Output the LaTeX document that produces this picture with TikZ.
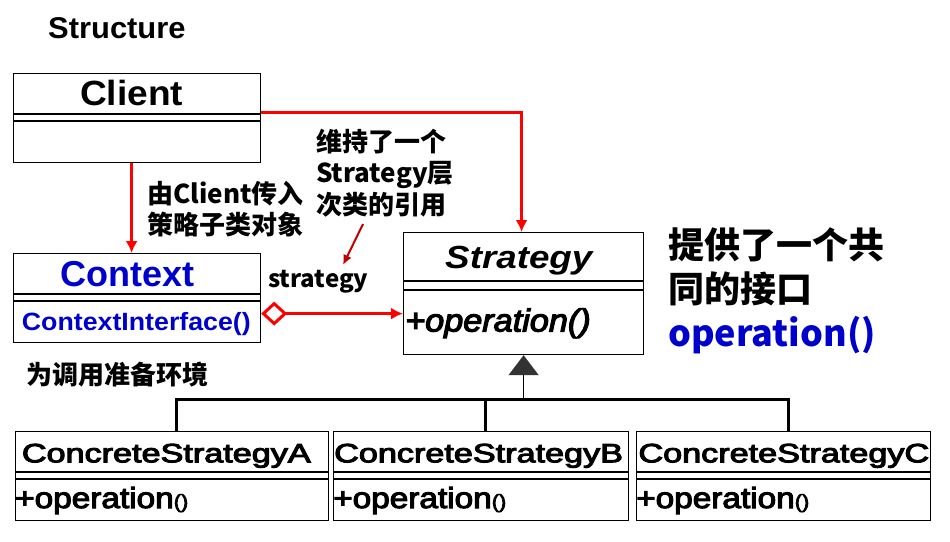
\documentclass[tikz,border=0pt]{standalone}
\usepackage{fontspec}
\setmainfont{Liberation Sans}
\newfontfamily\heavy{Liberation Sans}[FakeBold=3.5]
\newfontfamily\cjk{Noto Sans CJK SC}
\usetikzlibrary{arrows.meta,calc}
\definecolor{ctxblue}{RGB}{0,0,204}
\definecolor{notered}{RGB}{192,0,0}
\definecolor{tri}{RGB}{51,51,51}
\newcommand\fs[1]{\fontsize{#1}{#1}\selectfont}
\newcommand\xs[2]{\scalebox{#1}[1]{#2}}
\begin{document}
\begin{tikzpicture}[x=1pt,y=-1pt,
  box/.style={draw,line width=1.2pt,inner sep=0pt,anchor=north west},
  sep/.style={line width=1.2pt},
  thicksep/.style={line width=2.5pt},
  txt/.style={inner sep=0pt,anchor=base west},
  cjknote/.style={inner sep=0pt,anchor=base west,align=left,font=\cjk\bfseries},
  redarr/.style={red,line width=3pt,-{Latex[length=12pt,width=12pt]}},
  bus/.style={line width=3pt},
]
\useasboundingbox[fill=white] (0,0) rectangle (950,541);

% title
\node[txt,font=\bfseries\fs{30}] (title) at (48,38.3) {\xs{1.03}{Structure}};

% boxes
\node[box,minimum width=247pt,minimum height=89pt] (client) at (13,73) {};
\draw[sep] ($(client.north west)+(0,41)$) -- ($(client.north east)+(0,41)$);
\draw[sep] ($(client.north west)+(0,48)$) -- ($(client.north east)+(0,48)$);

\node[box,minimum width=247pt,minimum height=89pt] (context) at (13,253) {};
\draw[sep] ($(context.north west)+(0,41)$) -- ($(context.north east)+(0,41)$);
\draw[sep] ($(context.north west)+(0,48)$) -- ($(context.north east)+(0,48)$);

\node[box,minimum width=240pt,minimum height=122pt] (strategy) at (403,232) {};
\draw[sep] ($(strategy.north west)+(0,49)$) -- ($(strategy.north east)+(0,49)$);
\draw[sep] ($(strategy.north west)+(0,58)$) -- ($(strategy.north east)+(0,58)$);

\node[box,minimum width=313pt,minimum height=89pt] (csA) at (15,431) {};
\node[box,minimum width=295pt,minimum height=89pt] (csB) at (333,431) {};
\node[box,minimum width=294pt,minimum height=89pt] (csC) at (636,431) {};
\foreach \b in {csA,csB,csC}{
  \draw[sep] ($(\b.north west)+(0,41)$) -- ($(\b.north east)+(0,41)$);
  \draw[thicksep] ($(\b.north west)+(0,48)$) -- ($(\b.north east)+(0,48)$);
}

% box texts
\node[txt,font=\bfseries\fs{35}] (clientT) at (80,105.6) {\xs{1.06}{Client}};
\node[txt,font=\bfseries\fs{36},text=ctxblue] (contextT) at (60,286.7) {Context};
\node[txt,font=\bfseries\fs{25},text=ctxblue] (contextOp) at (21.7,330.5) {\xs{1.07}{ContextInterface()}};
\node[txt,font=\bfseries\itshape\fs{32}] (strategyT) at (445,268) {\xs{1.15}{Strategy}};
\node[txt,font=\heavy\itshape\fs{32}] (strategyOp) at (405,331.5) {\xs{1.07}{+operation()}};

\node[txt,font=\heavy\fs{26.5}] (csAT) at (21.7,462.3) {\xs{1.29}{ConcreteStrategyA}};
\node[txt,font=\heavy\fs{26.5}] (csBT) at (334,462.3) {\xs{1.29}{ConcreteStrategyB}};
\node[txt,font=\heavy\fs{26.5}] (csCT) at (638.3,462.3) {\xs{1.29}{ConcreteStrategyC}};
\node[txt,font=\heavy] (csAOp) at (15,508) {\xs{1.15}{\fs{29}+operation\fs{19}()}};
\node[txt,font=\heavy] (csBOp) at (333,508) {\xs{1.15}{\fs{29}+operation\fs{19}()}};
\node[txt,font=\heavy] (csCOp) at (636,508) {\xs{1.15}{\fs{29}+operation\fs{19}()}};

% notes (anchor = baseline of last line)
\node[cjknote,font=\cjk\bfseries\fontsize{26}{31}\selectfont] (note1) at (147,234) {由Client传入\\策略子类对象};
\node[cjknote,font=\cjk\bfseries\fontsize{26}{31.5}\selectfont] (note2) at (316,214) {维持了一个\\Strategy层\\次类的引用};
\node[cjknote,font=\cjk\bfseries\fs{24}] (rolename) at (268,287) {strategy};
\node[cjknote,font=\cjk\bfseries\fs{26}] (note3) at (26,384) {为调用准备环境};
\node[cjknote,font=\cjk\bfseries\fontsize{36}{44}\selectfont] (note4) at (668,346) {提供了一个共\\同的接口\\\textcolor{ctxblue}{operation()}};

% connectors
\draw[redarr] ([xshift=-5.5pt]client.south) -- ([xshift=-5.5pt]context.north);
\draw[redarr] ([yshift=5.5pt]client.east) -| ([xshift=-2pt]strategy.north);
\draw[red,line width=3pt,{Diamond[open,length=26pt,width=24pt]}-{Latex[length=12pt,width=12pt]}]
  ([yshift=-15.5pt]context.east) -- ([yshift=-15.5pt]context.east -| strategy.west);

\coordinate (na) at (363,224);
\coordinate (nb) at (343,265);
\draw[notered,line width=2pt,-{Latex[length=10pt,width=9pt]}] (na) -- (nb);

% inheritance
\draw[bus] ([xshift=4pt]csA.north) -- ++(0,-32) coordinate (busA) -| ([xshift=5pt]csC.north);
\draw[bus] ([xshift=4pt]csB.north) -- ++(0,-32);
\draw[line width=1.5pt,-{Triangle[length=20pt,width=30pt,color=tri]}] (strategy.south |- busA) -- (strategy.south);
\end{tikzpicture}
\end{document}
